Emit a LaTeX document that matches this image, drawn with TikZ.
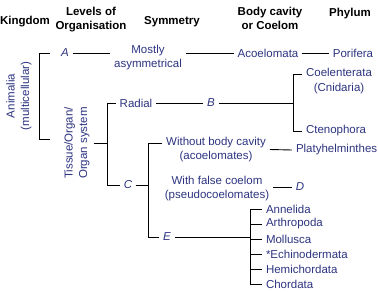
\documentclass[tikz,border=0pt]{standalone}
\usepackage{fontspec}
\setmainfont{Liberation Sans}
\usepackage{tikz}
\definecolor{taxonBlue}{RGB}{45,52,128}

\begin{document}
\begin{tikzpicture}[
    x=1pt, y=-1pt,
    % Estilo para los encabezados de columna
    heading/.style={font=\fontsize{11.5}{14}\selectfont\bfseries, align=center, inner sep=0pt, outer sep=4pt},
    % Estilo para los grupos (texto azul)
    taxon/.style={font=\fontsize{11.5}{14.5}\selectfont, text=taxonBlue, align=center, inner sep=0pt, outer sep=4pt},
    taxonLetter/.style={taxon, font=\fontsize{11.5}{14.5}\selectfont\itshape},
    % Lineas del arbol
    branchLine/.style={draw=black, line width=0.9pt}
]
    \useasboundingbox (0,0) rectangle (378,292);

    % --- ENCABEZADOS ---
    \node[heading] (kingdom)  at (25,22)  {Kingdom};
    \node[heading] (levels)   at (91,20)  {Levels of\\Organisation};
    \node[heading] (symmetry) at (172,22) {Symmetry};
    \node[heading] (cavity)   at (270,18) {Body cavity\\or Coelom};
    \node[heading] (phylum)   at (350,14) {Phylum};

    % --- REINO Y NIVELES (texto vertical) ---
    \node[taxon, rotate=90] (animalia) at (19,96)   {Animalia\\(multicellular)};
    \node[taxon, rotate=90] (tissue)   at (77,143)  {Tissue/Organ/\\Organ system};

    % --- SIMETRIA, CAVIDAD Y FILOS ---
    \node[taxonLetter] (A)        at (65,53)   {A};
    \node[taxon]       (mostly)   at (148,57.5) {Mostly\\asymmetrical};
    \node[taxon]       (acoel)    at (268,53)  {Acoelomata};
    \node[taxon]       (porifera) at (353,53)  {Porifera};

    \node[taxon]       (radial)   at (136,103) {Radial};
    \node[taxonLetter] (B)        at (211,103) {B};
    \node[taxon]       (coelent)  at (339,81)  {Coelenterata\\(Cnidaria)};
    \node[taxon, anchor=west] (cteno) at (302,131) {Ctenophora};

    \node[taxonLetter] (C)        at (128,185) {C};
    \node[taxon]       (without)  at (216,149.5) {Without body cavity\\(acoelomates)};
    \node[taxon, anchor=west] (platy) at (292,150) {Platyhelminthes};
    \node[taxon]       (withFalse) at (217,188.5) {With false coelom\\(pseudocoelomates)};
    \node[taxonLetter] (D)        at (300,187) {D};
    \node[taxonLetter] (E)        at (167,237) {E};

    % Celomados verdaderos
    \node[taxon, anchor=west] (annelida)   at (262,209) {Annelida};
    \node[taxon, anchor=west] (arthropoda) at (262,224) {Arthropoda};
    \node[taxon, anchor=west] (mollusca)   at (262,239) {Mollusca};
    \node[taxon, anchor=west] (echino)     at (262,254) {*Echinodermata};
    \node[taxon, anchor=west] (hemi)       at (262,269) {Hemichordata};
    \node[taxon, anchor=west] (chordata)   at (262,284) {Chordata};

    % --- PUNTOS DE LAS LLAVES ---
    \coordinate (kTop)    at (39,53);
    \coordinate (kBot)    at (39,139);
    \coordinate (kTopEnd) at (50,53);
    \coordinate (kBotEnd) at (50,139);
    \coordinate (tBot)    at (107,185);
    \coordinate (bTop)    at (293,74);
    \coordinate (bBot)    at (293,131);
    \coordinate (cTop)    at (148,143);
    \coordinate (cBot)    at (148,237);
    \coordinate (eBot)    at (250,284);

    % --- RAMAS DEL ARBOL ---
    % Reino -> niveles
    \draw[branchLine] (kTopEnd) -- (kTop) -- (kBot) -- (kBotEnd);

    % Fila A
    \draw[branchLine] (A.east) -- (A.east -| mostly.west);
    \draw[branchLine] (mostly.east |- A) -- (A -| acoel.west);
    \draw[branchLine] (acoel.east) -- (porifera.west);

    % Tejido/organo -> Radial y C
    \draw[branchLine] (tissue.south) -- (tissue.south -| tBot);
    \draw[branchLine] (radial.west) -| (tBot) -- (C.west);

    % Radial -> B -> Coelenterata y Ctenophora
    \draw[branchLine] (radial.east) -- (B.west);
    \draw[branchLine] (B.east) -- (B.east -| bTop);
    \draw[branchLine] (bTop -| coelent.west) -- (bTop) -- (bBot) -- (cteno.west);

    % C -> tres tipos de cavidad
    \draw[branchLine] (C.east) -- (C.east -| cTop);
    \draw[branchLine] (cTop -| without.west) -- (cTop) -- (cBot) -- (E.west);
    \draw[branchLine] (without.east) -- (platy.west);
    \draw[branchLine] (withFalse.east |- D) -- (D.west);

    % E -> filos celomados
    \draw[branchLine] (E.east) -- (E.east -| eBot);
    \draw[branchLine] (annelida.west) -| (eBot) -- (chordata.west);
    \draw[branchLine] (arthropoda.west) -- (arthropoda.west -| eBot);
    \draw[branchLine] (mollusca.west) -- (mollusca.west -| eBot);
    \draw[branchLine] (echino.west) -- (echino.west -| eBot);
    \draw[branchLine] (hemi.west) -- (hemi.west -| eBot);

\end{tikzpicture}
\end{document}
